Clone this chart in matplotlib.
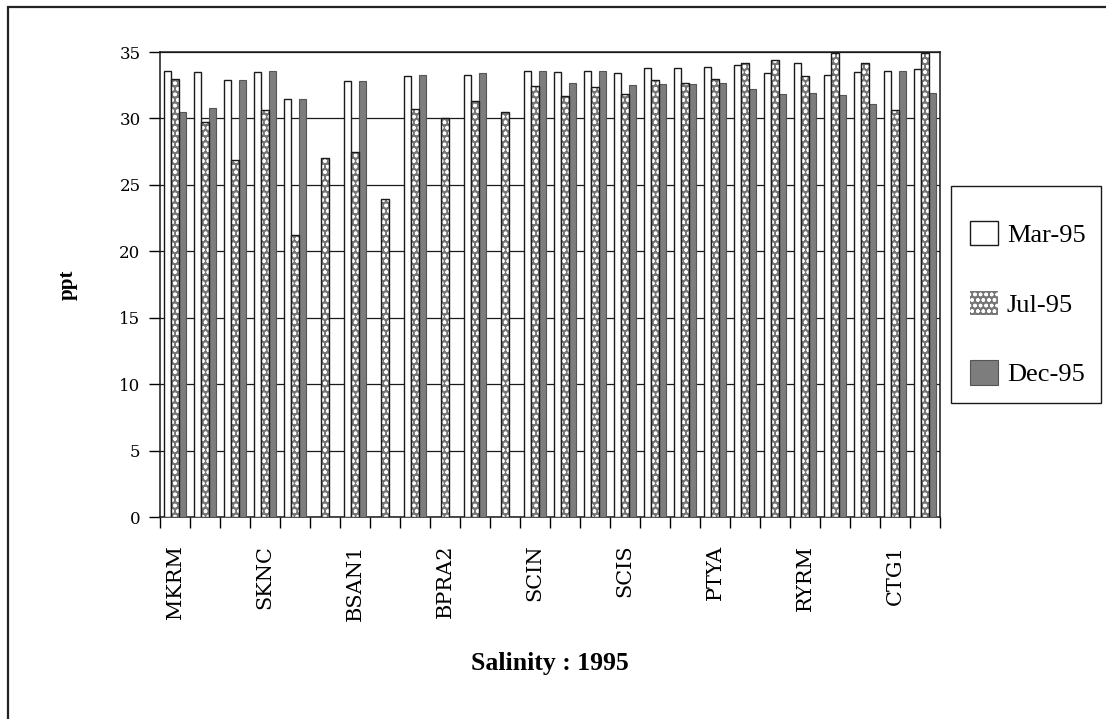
import numpy as np
import matplotlib
matplotlib.use("Agg")
import matplotlib.pyplot as plt
from matplotlib.patches import Patch, Rectangle

# ---- data ----
stations = ["MKRM", "", "", "SKNC", "", "", "BSAN1", "", "", "BPRA2", "", "",
            "SCIN", "", "", "SCIS", "", "", "PTYA", "", "", "RYRM", "", "",
            "CTG1", ""]
mar95 = [33.6, 33.5, 32.9, 33.5, 31.5, np.nan, 32.85, np.nan, 33.2, np.nan,
         33.3, np.nan, 33.6, 33.5, 33.6, 33.4, 33.8, 33.8, 33.85, 34.0,
         33.4, 34.2, 33.3, 33.5, 33.55, 33.75]
jul95 = [33.0, 29.7, 26.9, 30.6, 21.2, 27.0, 27.5, 23.9, 30.7, 30.0,
         31.3, 30.5, 32.45, 31.7, 32.4, 31.85, 32.9, 32.65, 33.0, 34.2,
         34.4, 33.2, 34.9, 34.2, 30.6, 34.9]
dec95 = [30.5, 30.8, 32.9, 33.55, 31.5, np.nan, 32.85, np.nan, 33.25, np.nan,
         33.4, np.nan, 33.6, 32.65, 33.6, 32.5, 32.6, 32.6, 32.7, 32.2,
         31.85, 31.9, 31.8, 31.05, 33.55, 31.9]
series_names = ["Mar-95", "Jul-95", "Dec-95"]
yticks = [0, 5, 10, 15, 20, 25, 30, 35]

W, H = 1106, 719
fig = plt.figure(figsize=(W / 100, H / 100), dpi=100)
fig.patch.set_facecolor("white")

# outer chart frame (cut off at right/bottom in the scan)
fig.add_artist(Rectangle((8 / W, -0.05), 1.2, 1 - 7 / H + 0.05,
                         transform=fig.transFigure, fill=False,
                         edgecolor="#222222", linewidth=1.6))

ax = fig.add_axes([160 / W, 1 - 517 / H, (940 - 160) / W, (517 - 52) / H])

x = np.arange(len(stations))
bw = 0.25
dec_col = "#7d7d7d"
jul_col = "#767676"

ax.bar(x - bw, mar95, bw, facecolor="white", edgecolor="#1a1a1a",
       linewidth=1.0, zorder=3)
# Jul: grey with white dotted pattern
ax.bar(x, jul95, bw, facecolor=jul_col, edgecolor="white", hatch="ooo",
       linewidth=0, zorder=3)
ax.bar(x, jul95, bw, fill=False, edgecolor="#1a1a1a", linewidth=1.0, zorder=4)
ax.bar(x + bw, dec95, bw, facecolor=dec_col, edgecolor="#555555",
       linewidth=0.8, zorder=3)

ax.set_xlim(-0.5, len(stations) - 0.5)
ax.set_ylim(0, 35)
ax.set_yticks(yticks)
ax.set_yticklabels([str(v) for v in yticks], fontsize=12,
                   family="DejaVu Serif")
ax.yaxis.grid(True, color="#1a1a1a", linewidth=0.9, zorder=0)
ax.set_axisbelow(True)

# category ticks between groups, labels centred
ax.set_xticks(np.arange(len(stations) + 1) - 0.5)
ax.set_xticklabels([])
ax.set_xticks(x, minor=True)
ax.set_xticklabels(stations, minor=True, rotation=90, fontsize=15,
                   family="DejaVu Serif")
ax.tick_params(axis="x", which="minor", length=0, pad=20)
ax.tick_params(axis="x", which="major", length=8, width=1, direction="out")
ax.tick_params(axis="y", length=8, width=1, direction="out", pad=6)

for s in ax.spines.values():
    s.set_linewidth(1.1)
    s.set_color("#1a1a1a")

ax.set_ylabel("ppt", fontsize=15, fontweight="bold", family="Liberation Serif",
              labelpad=30)
ax.set_xlabel("Salinity : 1995", fontsize=18.5, fontweight="bold",
              family="Liberation Serif", labelpad=22)

# legend frame drawn separately
fig.add_artist(Rectangle((951 / W, 1 - 403 / H), 150 / W, 217 / H,
                         transform=fig.transFigure, facecolor="white",
                         edgecolor="#1a1a1a", linewidth=1.0, zorder=5))

handles = [
    Patch(facecolor="white", edgecolor="#1a1a1a", linewidth=1.0),
    Patch(facecolor=jul_col, edgecolor="white", hatch="ooo", linewidth=0),
    Patch(facecolor=dec_col, edgecolor="#555555", linewidth=0.8),
]
leg = fig.legend(handles, series_names, loc="upper left",
                 bbox_to_anchor=(970 / W, 1 - 221 / H),
                 bbox_transform=fig.transFigure,
                 prop={"family": "Liberation Serif", "size": 19},
                 frameon=False,
                 labelspacing=1.64, handlelength=1.05, handleheight=1.05,
                 borderpad=0, handletextpad=0.35, borderaxespad=0)
leg.set_zorder(6)

fig.savefig("out.png", dpi=100, facecolor="white")
